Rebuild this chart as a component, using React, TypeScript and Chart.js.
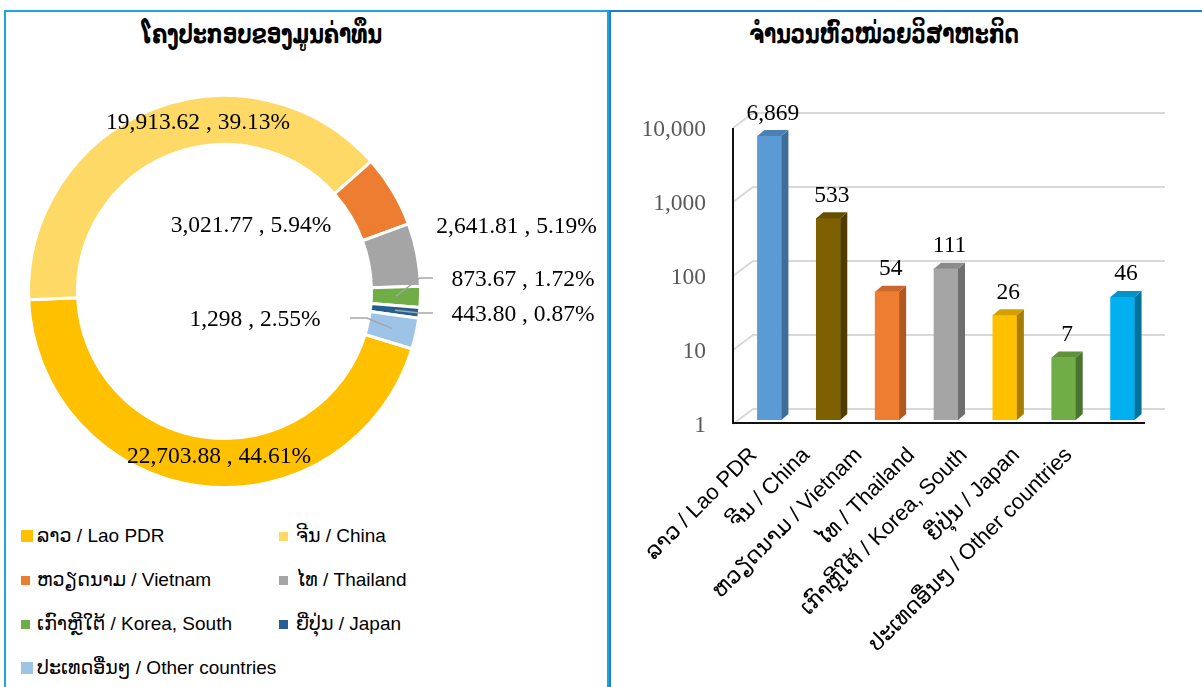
import React, { useEffect, useRef } from "react";
import { Chart, registerables } from "chart.js";
Chart.register(...registerables);

// ---------------- data ----------------
const COUNTRY_LAO = ["ລາວ", "ຈີນ", "ຫວຽດນາມ", "ໄທ", "ເກົາຫຼີໃຕ້", "ຍີ່ປຸ່ນ", "ປະເທດອື່ນໆ"];
const COUNTRY_EN = ["Lao PDR", "China", "Vietnam", "Thailand", "Korea, South", "Japan", "Other countries"];
const CAPITAL_VALUES = [22703.88, 19913.62, 3021.77, 2641.81, 873.67, 443.8, 1298];
const ENTERPRISE_COUNTS = [6869, 533, 54, 111, 26, 7, 46];
const Y_TICKS = [1, 10, 100, 1000, 10000];
const TITLE_LEFT = "ໂຄງປະກອບຂອງມູນຄ່າທຶນ";
const TITLE_RIGHT = "ຈຳນວນຫົວໜ່ວຍວິສາຫະກິດ";

// ---------------- styles ----------------
const PIE_COLORS = ["#FFC000", "#FFD966", "#ED7D31", "#A5A5A5", "#70AD47", "#255E91", "#9DC3E6"];
const BAR_FRONT = ["#5B9BD5", "#7F6000", "#ED7D31", "#A5A5A5", "#FFC000", "#70AD47", "#00B0F0"];
const BAR_SIDE = ["#3E6D99", "#4F3C00", "#B0581F", "#6E6E6E", "#A67D00", "#4A7330", "#00729C"];
const BAR_TOP = ["#4B81B3", "#655000", "#C96828", "#8A8A8A", "#D4A000", "#5E9139", "#0093C8"];
const LEGEND_SQ = [12, 9, 9, 9, 9, 9, 12];
// label anchor offsets relative to donut centre, in units of the outer radius
const DONUT_LABEL_POS: [number, number][] = [
  [-0.028, 0.844],
  [-0.135, -0.86],
  [0.135, -0.334],
  [1.49, -0.329],
  [1.523, -0.059],
  [1.523, 0.12],
  [0.156, 0.145],
];
// leader lines: index -> [elbow dx, end dx, y] in units of outer radius
const LEADERS: Record<number, [number, number, number]> = {
  4: [0.997, 1.064, -0.069],
  5: [0.997, 1.064, 0.11],
  6: [0.727, 0.64, 0.135],
};

const SERIF = "'Liberation Serif', 'Times New Roman', serif";
const SANS = "'Liberation Sans', Arial, 'DejaVu Sans', sans-serif";
const TITLE_FONT = "'DejaVu Sans', 'Liberation Sans', sans-serif";

function fmtValue(v: number) {
  return Number.isInteger(v)
    ? v.toLocaleString("en-US")
    : v.toLocaleString("en-US", { minimumFractionDigits: 2, maximumFractionDigits: 2 });
}

function DonutChart() {
  const ref = useRef<HTMLCanvasElement>(null);
  useEffect(() => {
    const total = CAPITAL_VALUES.reduce((a, b) => a + b, 0);
    const labelPlugin = {
      id: "donutLabels",
      afterDatasetsDraw(chart: any) {
        const meta = chart.getDatasetMeta(0);
        const ctx = chart.ctx as CanvasRenderingContext2D;
        const a0 = meta.data[0] as any;
        const cx = a0.x, cy = a0.y, R = a0.outerRadius;
        ctx.save();
        ctx.strokeStyle = "#A6A6A6";
        ctx.lineWidth = 1.5;
        Object.keys(LEADERS).forEach((k) => {
          const i = Number(k);
          const [ex, nx, ly] = LEADERS[i];
          const p = (meta.data[i] as any).getCenterPoint();
          ctx.beginPath();
          ctx.moveTo(p.x, p.y);
          ctx.lineTo(cx + ex * R, cy + ly * R);
          ctx.lineTo(cx + nx * R, cy + ly * R);
          ctx.stroke();
        });
        ctx.fillStyle = "#000";
        ctx.font = `23.5px ${SERIF}`;
        ctx.textAlign = "center";
        ctx.textBaseline = "middle";
        CAPITAL_VALUES.forEach((v, i) => {
          const pct = ((v / total) * 100).toFixed(2) + "%";
          const [dx, dy] = DONUT_LABEL_POS[i];
          ctx.fillText(`${fmtValue(v)} , ${pct}`, cx + dx * R, cy + dy * R);
        });
        ctx.restore();
      },
    };
    const chart = new Chart(ref.current!, {
      type: "doughnut",
      data: {
        labels: COUNTRY_LAO.map((l, i) => `${l} / ${COUNTRY_EN[i]}`),
        datasets: [
          {
            data: CAPITAL_VALUES,
            backgroundColor: PIE_COLORS,
            borderColor: "#ffffff",
            borderWidth: 3,
          },
        ],
      },
      options: {
        animation: false,
        responsive: false,
        cutout: "75%",
        rotation: 107,
        layout: { padding: { left: 21, top: 82, right: 186, bottom: 21 } },
        plugins: { legend: { display: false }, tooltip: { enabled: false } },
      },
      plugins: [labelPlugin],
    } as any);
    return () => chart.destroy();
  }, []);
  return (
    <canvas
      ref={ref}
      width={602}
      height={498}
      style={{ position: "absolute", left: 6, top: 12, width: 602, height: 498 }}
    />
  );
}

function BarChart() {
  const ref = useRef<HTMLCanvasElement>(null);
  useEffect(() => {
    const threeD = {
      id: "threeD",
      beforeDatasetsDraw(chart: any) {
        const { ctx, chartArea: a, scales } = chart;
        const ys = scales.y;
        ctx.save();
        ctx.strokeStyle = "#D9D9D9";
        ctx.lineWidth = 2;
        Y_TICKS.forEach((v) => {
          const py = ys.getPixelForValue(v);
          ctx.beginPath();
          ctx.moveTo(a.left - 7, py + 4);
          ctx.lineTo(a.left + 13, py - 11);
          ctx.lineTo(a.right + 13, py - 11);
          ctx.stroke();
        });
        ctx.strokeStyle = "#111";
        ctx.lineWidth = 2;
        ctx.beginPath();
        ctx.moveTo(a.left - 7, ys.getPixelForValue(Y_TICKS[Y_TICKS.length - 1]) + 4);
        ctx.lineTo(a.left - 7, a.bottom + 3);
        ctx.lineTo(a.right - 7, a.bottom + 3);
        ctx.stroke();
        ctx.restore();
      },
      afterDatasetsDraw(chart: any) {
        const { ctx, chartArea: a, scales } = chart;
        const meta = chart.getDatasetMeta(0);
        const dx = 7, dy = 6;
        ctx.save();
        meta.data.forEach((bar: any, i: number) => {
          const { x, y, base, width } = bar.getProps(["x", "y", "base", "width"], true);
          const l = x - width / 2, r = x + width / 2;
          ctx.fillStyle = BAR_SIDE[i];
          ctx.beginPath();
          ctx.moveTo(r, y);
          ctx.lineTo(r + dx, y - dy);
          ctx.lineTo(r + dx, base - dy);
          ctx.lineTo(r, base);
          ctx.closePath();
          ctx.fill();
          ctx.fillStyle = BAR_TOP[i];
          ctx.beginPath();
          ctx.moveTo(l, y);
          ctx.lineTo(l + dx, y - dy);
          ctx.lineTo(r + dx, y - dy);
          ctx.lineTo(r, y);
          ctx.closePath();
          ctx.fill();
          ctx.fillStyle = "#000";
          ctx.font = `23.5px ${SERIF}`;
          ctx.textAlign = "center";
          ctx.textBaseline = "alphabetic";
          ctx.fillText(ENTERPRISE_COUNTS[i].toLocaleString("en-US"), x + dx / 2, y - 16.5);
        });
        // rotated category labels (perspective-compressed spacing)
        const xs = scales.x;
        const step = (xs.getPixelForValue(1) - xs.getPixelForValue(0)) * 0.892;
        ctx.font = `22px ${SANS}`;
        ctx.fillStyle = "#000";
        ctx.textAlign = "right";
        ctx.textBaseline = "top";
        COUNTRY_LAO.forEach((l, i) => {
          ctx.save();
          ctx.translate(a.left + 6 + i * step, a.bottom + 24);
          ctx.rotate(-Math.PI / 4);
          ctx.fillText(`${l} / ${COUNTRY_EN[i]}`, 0, 0);
          ctx.restore();
        });
        ctx.restore();
      },
    };
    const chart = new Chart(ref.current!, {
      type: "bar",
      data: {
        labels: COUNTRY_LAO.map((l, i) => `${l} / ${COUNTRY_EN[i]}`),
        datasets: [
          {
            data: ENTERPRISE_COUNTS,
            backgroundColor: BAR_FRONT,
            barThickness: 24,
          },
        ],
      },
      options: {
        animation: false,
        responsive: false,
        layout: { padding: { left: 0, top: 112, right: 50, bottom: 0 } },
        plugins: { legend: { display: false }, tooltip: { enabled: false } },
        scales: {
          x: {
            grid: { display: false, drawTicks: false },
            border: { display: false },
            ticks: { display: false },
            afterFit: (s: any) => {
              s.height = 267;
            },
          },
          y: {
            type: "logarithmic",
            min: 1,
            max: 10000,
            grid: { display: false, drawTicks: false },
            border: { display: false },
            afterBuildTicks: (s: any) => {
              s.ticks = Y_TICKS.map((v) => ({ value: v }));
            },
            afterFit: (s: any) => {
              s.width = 129;
            },
            ticks: {
              padding: 34,
              labelOffset: 6,
              color: "#595959",
              font: { family: SERIF, size: 23.5 },
              callback: (v: any) => Number(v).toLocaleString("en-US"),
            },
          },
        },
      },
      plugins: [threeD],
    } as any);
    return () => chart.destroy();
  }, []);
  return (
    <canvas
      ref={ref}
      width={591}
      height={675}
      style={{ position: "absolute", left: 611, top: 12, width: 591, height: 675 }}
    />
  );
}

export default function App() {
  const titleStyle: React.CSSProperties = {
    position: "absolute",
    top: 17,
    width: 400,
    height: 34,
    lineHeight: "34px",
    textAlign: "center",
    fontFamily: TITLE_FONT,
    fontWeight: "bold",
    fontSize: 26,
    color: "#000",
    whiteSpace: "nowrap",
    transform: "scaleX(0.77)",
    transformOrigin: "center",
  };
  return (
    <div
      style={{
        position: "fixed",
        left: 0,
        top: 0,
        width: 1202,
        height: 687,
        background: "#fff",
        overflow: "hidden",
      }}
    >
      <div
        style={{
          position: "absolute",
          left: 4,
          top: 10,
          width: 605,
          height: 700,
          border: "2px solid #1CA4E4",
          boxSizing: "border-box",
        }}
      />
      <div
        style={{
          position: "absolute",
          left: 609,
          top: 10,
          width: 600,
          height: 700,
          border: "2px solid #1E7FD0",
          boxSizing: "border-box",
        }}
      />
      <div style={{ ...titleStyle, left: 62 }}>{TITLE_LEFT}</div>
      <div style={{ ...titleStyle, left: 684 }}>{TITLE_RIGHT}</div>
      <DonutChart />
      <BarChart />
      {COUNTRY_LAO.map((l, i) => {
        const col = i % 2;
        const row = Math.floor(i / 2);
        const cy = 536 + 44 * row;
        const sq = LEGEND_SQ[i];
        const sqX = col === 0 ? 21 : 279;
        const txX = col === 0 ? 37 : 296;
        return (
          <React.Fragment key={i}>
            <div
              style={{
                position: "absolute",
                left: sqX,
                top: cy - sq / 2,
                width: sq,
                height: sq,
                background: PIE_COLORS[i],
              }}
            />
            <div
              style={{
                position: "absolute",
                left: txX,
                top: cy - 12,
                height: 24,
                lineHeight: "24px",
                fontFamily: SANS,
                fontSize: 19,
                color: "#000",
                whiteSpace: "nowrap",
              }}
            >
              {`${l} / ${COUNTRY_EN[i]}`}
            </div>
          </React.Fragment>
        );
      })}
    </div>
  );
}
